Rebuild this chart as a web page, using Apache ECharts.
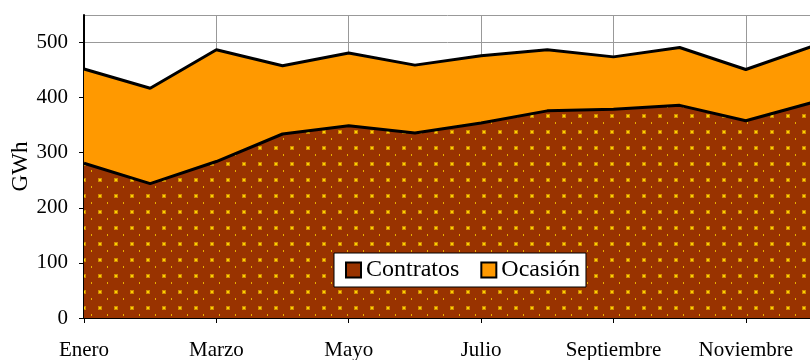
<!DOCTYPE html>
<html><head><meta charset="utf-8">
<script src="https://cdn.jsdelivr.net/npm/echarts@6/dist/echarts.min.js"></script>
<style>html,body{margin:0;padding:0;background:#fff}#c{width:810px;height:360px}</style>
</head><body><div id="c"></div>
<script>
var months = ['Enero','Febrero','Marzo','Abril','Mayo','Junio','Julio','Agosto','Septiembre','Octubre','Noviembre','Diciembre'];
var contratos = [281, 244, 284, 334, 349, 336, 354, 376, 379, 386, 358, 391];
var ocasion = [171, 173, 203, 124, 132, 123, 122, 111, 95, 105, 93, 102];

var tile = document.createElement('canvas');
tile.width = 16; tile.height = 16;
var g = tile.getContext('2d');
g.fillStyle = '#993300'; g.fillRect(0,0,16,16);
g.fillStyle = '#D08A00';
g.fillRect(2,2,4,4);
g.fillStyle = '#FFD000';
g.fillRect(3,3,2,2);
g.fillStyle = '#E8B000';
g.fillRect(11,10,1,2);

var chart = echarts.init(document.getElementById('c'));
var font = 'Liberation Serif';
chart.setOption({
  animation: false,
  grid: {left: 84, right: -2, top: 15, bottom: 42, containLabel: false, outerBoundsMode: 'none'},
  legend: {
    left: 334, top: 253,
    backgroundColor: '#fff', borderColor: '#000', borderWidth: 1,
    padding: [5, 6, 5, 11], itemGap: 21, itemWidth: 15, itemHeight: 15,
    icon: 'rect',
    itemStyle: {borderColor: '#000', borderWidth: 2},
    textStyle: {fontFamily: font, fontSize: 24, color: '#000'},
    data: [{name: 'Contratos', itemStyle: {color: '#993300'}}, {name: 'Ocasión', itemStyle: {color: '#FF9900'}}]
  },
  xAxis: {
    type: 'category', data: months, boundaryGap: false,
    axisLine: {lineStyle: {color: '#000', width: 2}},
    axisTick: {show: true, length: 5, lineStyle: {color: '#000', width: 1}},
    axisLabel: {interval: 1, margin: 22, fontFamily: font, fontSize: 21, color: '#000'},
    splitLine: {show: true, lineStyle: {color: '#999', width: 1}}
  },
  yAxis: {
    type: 'value', min: 0, max: 550, interval: 100,
    name: 'GWh', nameLocation: 'middle', nameGap: 52, nameRotate: 90, nameMoveOverlap: false,
    nameTextStyle: {fontFamily: font, fontSize: 23, color: '#000'},
    axisLine: {show: true, lineStyle: {color: '#000', width: 2}},
    axisTick: {show: true, length: 5, lineStyle: {color: '#000'}},
    axisLabel: {showMaxLabel: false, margin: 16, fontFamily: font, fontSize: 21, color: '#000'},
    splitLine: {show: true, lineStyle: {color: '#999', width: 1}}
  },
  series: [
    {name: 'Contratos', type: 'line', stack: 't', data: contratos, symbol: 'none',
     itemStyle: {color: '#993300'},
     lineStyle: {color: '#000', width: 3},
     areaStyle: {color: {image: tile, repeat: 'repeat'}, opacity: 1}, z: 3},
    {name: 'Ocasión', type: 'line', stack: 't', data: ocasion, symbol: 'none',
     itemStyle: {color: '#FF9900'},
     lineStyle: {color: '#000', width: 3},
     areaStyle: {color: '#FF9900', opacity: 1}, z: 2}
  ]
});
</script></body></html>
